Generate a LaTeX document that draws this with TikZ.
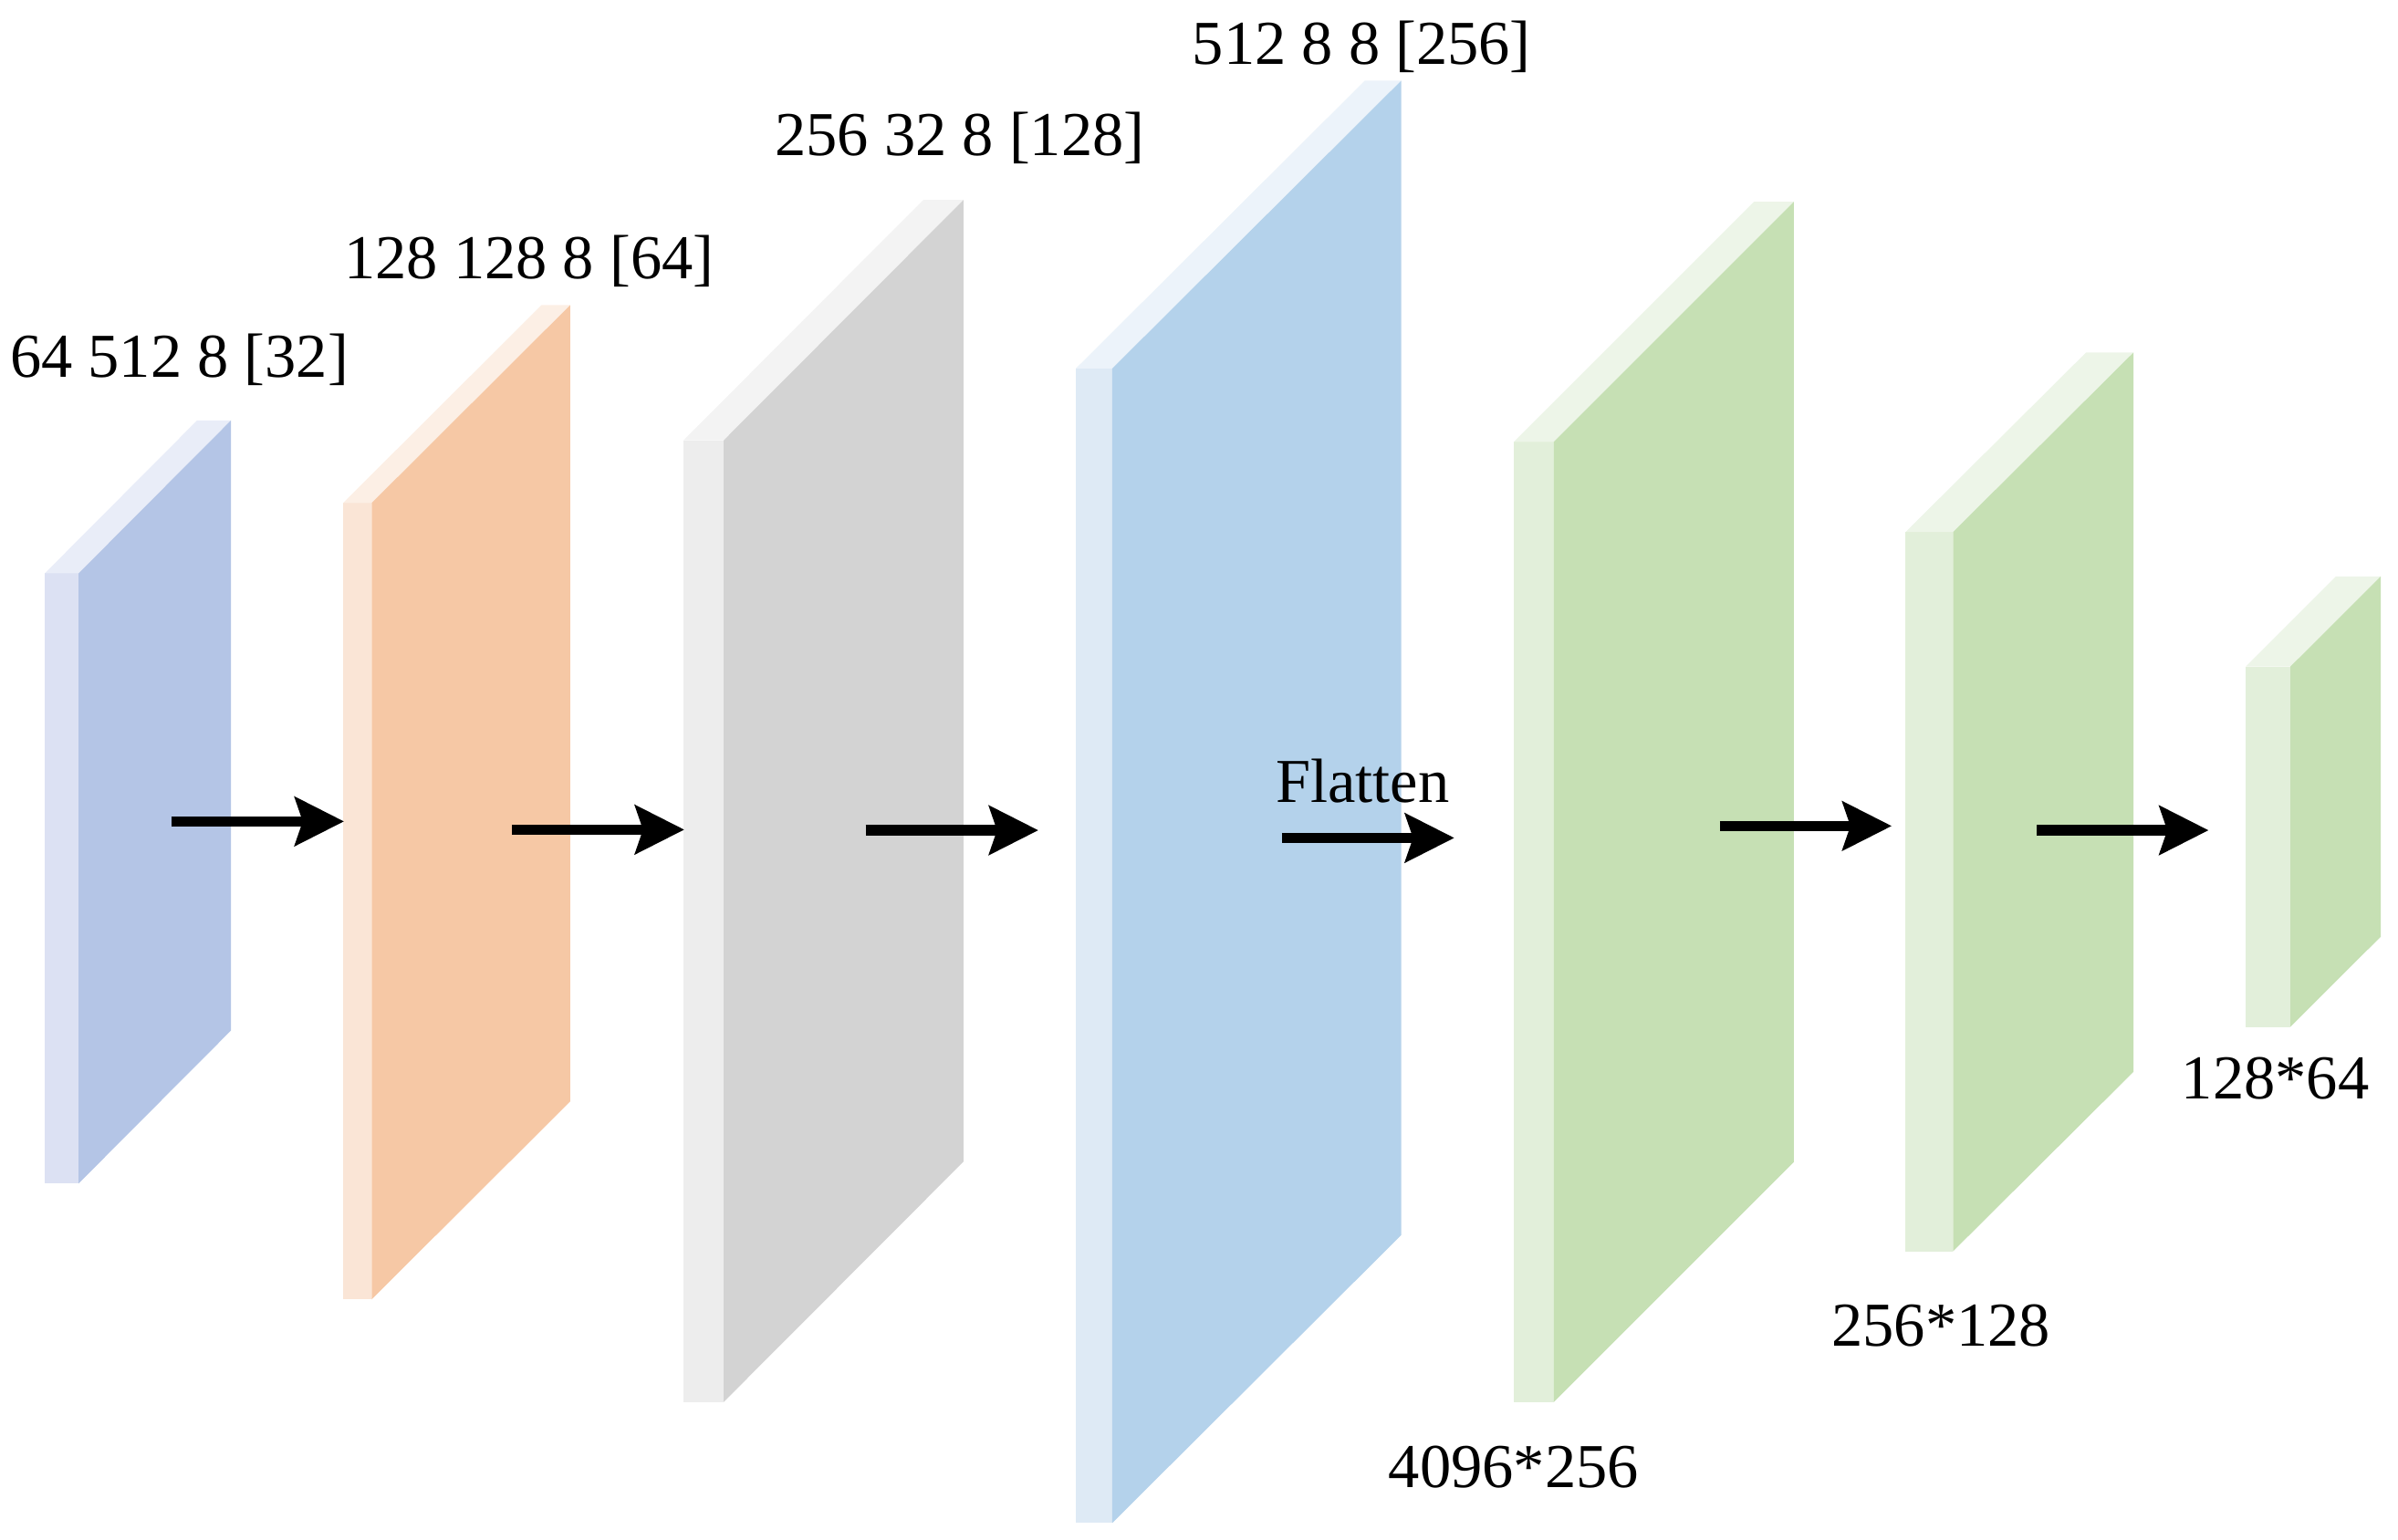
\documentclass[tikz,border=0pt]{standalone}
\usepackage{fontspec}
\setmainfont{Liberation Serif}
\usetikzlibrary{arrows.meta}
\definecolor{b1side}{HTML}{B4C5E6}\definecolor{b1front}{HTML}{DCE1F3}\definecolor{b1top}{HTML}{E9EDF8}
\definecolor{orside}{HTML}{F6C8A5}\definecolor{orfront}{HTML}{FAE5D6}\definecolor{ortop}{HTML}{FCEFE5}
\definecolor{grside}{HTML}{D3D3D3}\definecolor{grfront}{HTML}{EDEDED}\definecolor{grtop}{HTML}{F3F3F3}
\definecolor{b2side}{HTML}{B4D2EB}\definecolor{b2front}{HTML}{DEEAF5}\definecolor{b2top}{HTML}{ECF3FA}
\definecolor{gnside}{HTML}{C6E0B4}\definecolor{gnfront}{HTML}{E2EFDA}\definecolor{gntop}{HTML}{EDF5E8}
% #1 x0, #2 x1, #3 y top, #4 y bottom, #5 dx, #6 dy, #7 side, #8 front, #9 top
\newcommand{\myslab}[9]{%
  \fill[#8] (#1,#3) rectangle (#2,#4);
  \fill[#9] (#1,#3) -- (#2,#3) -- ++(#5,-#6) -- ++(#1-#2,0) -- cycle;
  \fill[#7] (#2,#3) -- ++(#5,-#6) -- ++(0,#4-#3) -- (#2,#4) -- cycle;
}
\begin{document}
\begin{tikzpicture}[x=0.01cm,y=-0.01cm,
  lbl/.style={anchor=base west,inner sep=0pt,font=\fontsize{11.62}{14}\selectfont},
  arr/.style={line width=0.067cm,-{Stealth[length=3.2mm,width=3.15mm,inset=0.5mm]}}]
\useasboundingbox[fill=white] (0,0) rectangle (1568,1007);
% slabs
\myslab{29.3}{51.4}{375}{774}{99.6}{100}{b1side}{b1front}{b1top}
\myslab{224.3}{243}{329}{849.8}{129.9}{129.5}{orside}{orfront}{ortop}
\myslab{446.9}{473.2}{288}{916.9}{156.8}{157.2}{grside}{grfront}{grtop}
\myslab{703.5}{727.3}{241}{996}{189}{188.3}{b2side}{b2front}{b2top}
\myslab{989.8}{1016}{289}{916.9}{157}{157}{gnside}{gnfront}{gntop}
\myslab{1246}{1277}{348}{818.4}{118}{117.4}{gnside}{gnfront}{gntop}
\myslab{1468.4}{1497.6}{436}{671.6}{59.1}{59}{gnside}{gnfront}{gntop}
% labels
\node[lbl] (l1) at (5.9,246.9) {64 512 8 [32]};
\node[lbl] (l2) at (224.4,182) {128 128 8 [64]};
\node[lbl] (l3) at (506,102) {256 32 8 [128]};
\node[lbl] (l4) at (779,42) {512 8 8 [256]};
\node[lbl] (fl) at (833.5,525) {Flatten};
\node[lbl] (l5) at (907.3,973) {4096*256};
\node[lbl] (l6) at (1197,880.5) {256*128};
\node[lbl] (l7) at (1425.8,718.4) {128*64};
% arrows
\coordinate (a1s) at (112,537.2);  \coordinate (a1e) at (225,537.2);
\coordinate (a2s) at (334.8,542.6);\coordinate (a2e) at (447.5,542.6);
\coordinate (a3s) at (566,543);    \coordinate (a3e) at (679,543);
\coordinate (a4s) at (838.2,548);  \coordinate (a4e) at (951,548);
\coordinate (a5s) at (1124.6,540.2);\coordinate (a5e) at (1237,540.2);
\coordinate (a6s) at (1332,543);   \coordinate (a6e) at (1444.2,543);
\draw[arr] (a1s) -- (a1e);
\draw[arr] (a2s) -- (a2e);
\draw[arr] (a3s) -- (a3e);
\draw[arr] (a4s) -- (a4e);
\draw[arr] (a5s) -- (a5e);
\draw[arr] (a6s) -- (a6e);
\end{tikzpicture}
\end{document}
